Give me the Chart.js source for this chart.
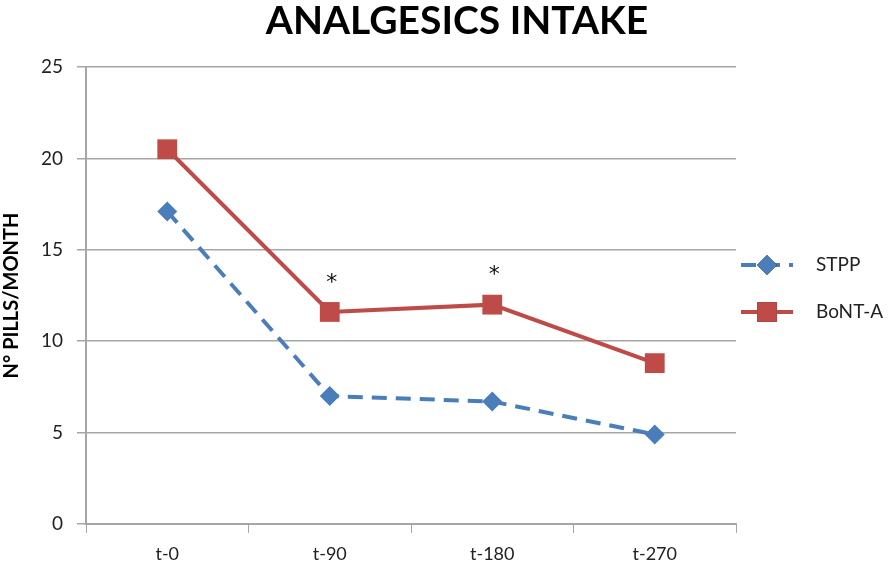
<!DOCTYPE html>
<html>
<head>
<meta charset="utf-8">
<script src="https://cdn.jsdelivr.net/npm/chart.js@4/dist/chart.umd.min.js"></script>
<style>
  html, body { margin: 0; padding: 0; background: #fff; }
  #wrap { position: relative; width: 896px; height: 568px; }
  #title {
    position: absolute; left: 0; width: 914px; top: -1px; text-align: center;
    font: bold 39px Lato, "Open Sans", sans-serif; color: #000; line-height: 40px;
  }
</style>
</head>
<body>
<div id="wrap">
  <div id="title">ANALGESICS INTAKE</div>
  <canvas id="chart" width="896" height="568"></canvas>
</div>
<script>
const categories = ['t-0', 't-90', 't-180', 't-270'];
const stpp = [17.1, 7.0, 6.7, 4.9];
const bont = [20.5, 11.6, 12.0, 8.8];
const marks = ['', '*', '*', ''];
const yTicks = [0, 5, 10, 15, 20, 25];

const blue = '#4a7ebb';
const red = '#be4b48';
const gridColor = '#a6a6a6';
const textColor = '#222';

// legend drawn on the right, like the original
const sideLegend = {
    id: 'sideLegend',
    afterDraw(chart) {
        const ctx = chart.ctx;
        const x0 = chart.chartArea.right + 5;
        const rows = [{ y: 265 }, { y: 312 }];
        ctx.save();
        chart.data.datasets.forEach((ds, i) => {
            const y = rows[i].y;
            ctx.strokeStyle = ds.borderColor;
            ctx.lineWidth = ds.borderWidth;
            ctx.setLineDash(ds.borderDash || []);
            ctx.beginPath();
            ctx.moveTo(x0, y);
            ctx.lineTo(x0 + 52, y);
            ctx.stroke();
            ctx.setLineDash([]);
            Chart.helpers.drawPoint(ctx, {
                pointStyle: ds.pointStyle,
                radius: ds.pointRadius,
                borderWidth: 0
            }, x0 + 26, y);
            ctx.fillStyle = ds.pointBackgroundColor;
            ctx.fill();
            ctx.fillStyle = textColor;
            ctx.font = '19px Lato, "Open Sans", sans-serif';
            ctx.textBaseline = 'middle';
            ctx.textAlign = 'left';
            ctx.fillText(ds.label, x0 + 75, y);
        });
        ctx.restore();
    }
};

// significance stars over the BoNT-A points
const stars = {
    id: 'stars',
    afterDatasetsDraw(chart) {
        const ctx = chart.ctx;
        const meta = chart.getDatasetMeta(1);
        ctx.save();
        ctx.fillStyle = '#111';
        ctx.font = '22px "DejaVu Sans", sans-serif';
        ctx.textAlign = 'center';
        ctx.textBaseline = 'middle';
        marks.forEach((m, i) => {
            if (!m) return;
            const pt = meta.data[i];
            ctx.fillText(m, pt.x + 2, pt.y - 29);
        });
        ctx.restore();
    }
};

new Chart(document.getElementById('chart'), {
    type: 'line',
    data: {
        labels: categories,
        datasets: [
            {
                label: 'STPP',
                data: stpp,
                borderColor: blue,
                backgroundColor: blue,
                pointBackgroundColor: blue,
                pointBorderWidth: 0,
                borderWidth: 4,
                borderDash: [15, 9],
                pointStyle: 'rectRot',
                pointRadius: 10,
                tension: 0
            },
            {
                label: 'BoNT-A',
                data: bont,
                borderColor: red,
                backgroundColor: red,
                pointBackgroundColor: red,
                pointBorderWidth: 0,
                borderWidth: 4,
                pointStyle: 'rect',
                pointRadius: 14,
                tension: 0
            }
        ]
    },
    options: {
        responsive: false,
        animation: false,
        layout: { padding: { left: 0, right: 160, top: 67, bottom: 0 } },
        plugins: {
            legend: { display: false },
            tooltip: { enabled: false }
        },
        scales: {
            x: {
                offset: true,
                grid: {
                    display: true,
                    drawOnChartArea: false,
                    drawTicks: true,
                    tickLength: 9,
                    color: gridColor,
                    offset: true
                },
                border: { color: gridColor, width: 2 },
                ticks: {
                    color: textColor,
                    padding: 10,
                    font: { family: 'Lato, "Open Sans", sans-serif', size: 18 }
                },
                afterFit(scale) { scale.height = 44; }
            },
            y: {
                min: 0,
                max: 25,
                afterBuildTicks(scale) { scale.ticks = yTicks.map(v => ({ value: v })); },
                grid: {
                    color: gridColor,
                    lineWidth: 1.5,
                    tickLength: 9
                },
                border: { color: gridColor, width: 2 },
                ticks: {
                    color: textColor,
                    padding: 14,
                    font: { family: 'Lato, "Open Sans", sans-serif', size: 19 }
                },
                title: {
                    display: true,
                    text: 'N° PILLS/MONTH',
                    color: '#000',
                    font: { family: 'Lato, "Open Sans", sans-serif', size: 20, weight: 'bold' },
                    padding: { top: 0, bottom: 0 }
                },
                afterFit(scale) { scale.width = 86; }
            }
        }
    },
    plugins: [stars, sideLegend]
});
</script>
</body>
</html>
